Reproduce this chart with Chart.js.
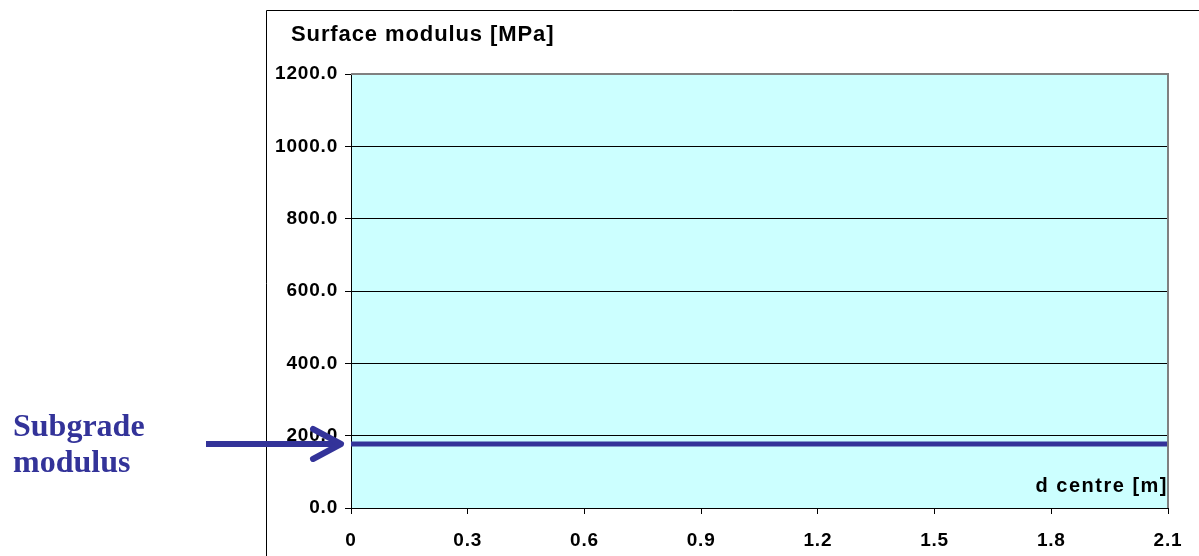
<!DOCTYPE html>
<html>
<head>
<meta charset="utf-8">
<script src="https://cdn.jsdelivr.net/npm/chart.js@4/dist/chart.umd.min.js"></script>
<style>
    html, body { margin: 0; padding: 0; background: #fff; }
    canvas { display: block; }
</style>
</head>
<body>
<canvas id="modulusChart" width="1199" height="556"></canvas>
<script>
// data
const dCentre = [0, 2.1];
const subgradeModulus = [177, 177];
const xTicks = [0, 0.3, 0.6, 0.9, 1.2, 1.5, 1.8, 2.1];
const yTicks = [0, 200, 400, 600, 800, 1000, 1200];

const yTitle = 'Surface modulus [MPa]';
const xTitle = 'd centre [m]';
const noteLines = ['Subgrade', 'modulus'];

const blue = '#333399';
const sansFont = 'Arial, "Liberation Sans", sans-serif';


const decorPlugin = {
    id: 'decor',
    beforeDraw: function(chart) {
        const ctx = chart.ctx;
        const area = chart.chartArea;
        ctx.save();
        ctx.fillStyle = '#ffffff';
        ctx.fillRect(0, 0, chart.width, chart.height);
        ctx.fillStyle = '#CCFFFF';
        ctx.fillRect(area.left, area.top, area.right - area.left, area.bottom - area.top);

        // outer chart frame
        ctx.strokeStyle = '#000000';
        ctx.lineWidth = 1;
        ctx.beginPath();
        ctx.moveTo(266.5, chart.height);
        ctx.lineTo(266.5, 10.5);
        ctx.lineTo(chart.width, 10.5);
        ctx.stroke();
        ctx.restore();

        // Excel-like wide text for the scales
        ctx.letterSpacing = '0.8px';
    },
    afterDraw: function(chart) {
        const ctx = chart.ctx;
        const area = chart.chartArea;
        const yScale = chart.scales.y;
        ctx.save();

        // grey plot border top / right
        ctx.strokeStyle = '#808080';
        ctx.lineWidth = 2;
        ctx.beginPath();
        ctx.moveTo(area.left, area.top);
        ctx.lineTo(area.right, area.top);
        ctx.lineTo(area.right, area.bottom);
        ctx.stroke();

        // axis titles
        ctx.fillStyle = '#000000';
        ctx.textBaseline = 'alphabetic';
        ctx.font = 'bold 22px ' + sansFont;
        ctx.letterSpacing = '0.9px';
        ctx.textAlign = 'left';
        ctx.fillText(yTitle, 291, 41);

        ctx.font = 'bold 20px ' + sansFont;
        ctx.letterSpacing = '1.5px';
        ctx.textAlign = 'right';
        ctx.fillText(xTitle, area.right, 492);

        // arrow pointing at the subgrade line
        const yLine = yScale.getPixelForValue(subgradeModulus[0]);
        ctx.strokeStyle = blue;
        ctx.lineWidth = 6;
        ctx.lineCap = 'butt';
        ctx.beginPath();
        ctx.moveTo(206, yLine);
        ctx.lineTo(area.left - 12, yLine);
        ctx.stroke();
        ctx.lineCap = 'round';
        ctx.lineJoin = 'round';
        ctx.beginPath();
        ctx.moveTo(area.left - 38, yLine - 15);
        ctx.lineTo(area.left - 10, yLine);
        ctx.lineTo(area.left - 38, yLine + 15);
        ctx.stroke();

        // label
        ctx.letterSpacing = '0px';
        ctx.fillStyle = blue;
        ctx.textAlign = 'left';
        ctx.font = 'bold 32px "Times New Roman", "Liberation Serif", serif';
        ctx.fillText(noteLines[0], 13, 436);
        ctx.fillText(noteLines[1], 13, 472);

        ctx.restore();
    }
};


const ctx = document.getElementById('modulusChart').getContext('2d');
new Chart(ctx, {
    type: 'line',
    data: {
        datasets: [{
            label: 'Subgrade modulus',
            data: dCentre.map((d, i) => ({ x: d, y: subgradeModulus[i] })),
            borderColor: blue,
            borderWidth: 5,
            pointRadius: 0,
            borderCapStyle: 'butt',
            fill: false,
            clip: false
        }]
    },
    options: {
        responsive: false,
        animation: false,
        events: [],
        layout: {
            padding: { left: 0, right: 31, top: 74, bottom: 0 }
        },
        plugins: {
            legend: { display: false },
            title: { display: false },
            tooltip: { enabled: false }
        },
        scales: {
            x: {
                type: 'linear',
                min: 0,
                max: 2.1,
                afterBuildTicks: function(scale) {
                    scale.ticks = xTicks.map(v => ({ value: v }));
                },
                afterFit: function(scale) {
                    scale.height = 48;
                },
                ticks: {
                    color: '#000000',
                    font: { family: sansFont, size: 19, weight: 'bold' },
                    padding: 15,
                    maxRotation: 0,
                    autoSkip: false,
                    callback: function(v) { return v === 0 ? '0' : v.toFixed(1); }
                },
                grid: {
                    drawOnChartArea: false,
                    drawTicks: true,
                    tickLength: 6,
                    color: '#000000'
                },
                border: { display: true, color: '#000000', width: 1 }
            },
            y: {
                min: 0,
                max: 1200,
                afterBuildTicks: function(scale) {
                    scale.ticks = yTicks.map(v => ({ value: v }));
                },
                afterFit: function(scale) {
                    scale.width = 351;
                },
                ticks: {
                    color: '#000000',
                    font: { family: sansFont, size: 19, weight: 'bold' },
                    padding: 7,
                    callback: function(v) { return v.toFixed(1); }
                },
                grid: {
                    drawOnChartArea: true,
                    drawTicks: true,
                    tickLength: 6,
                    color: '#000000',
                    lineWidth: 1
                },
                border: { display: true, color: '#000000', width: 1 }
            }
        }
    },
    plugins: [decorPlugin]
});
</script>
</body>
</html>
